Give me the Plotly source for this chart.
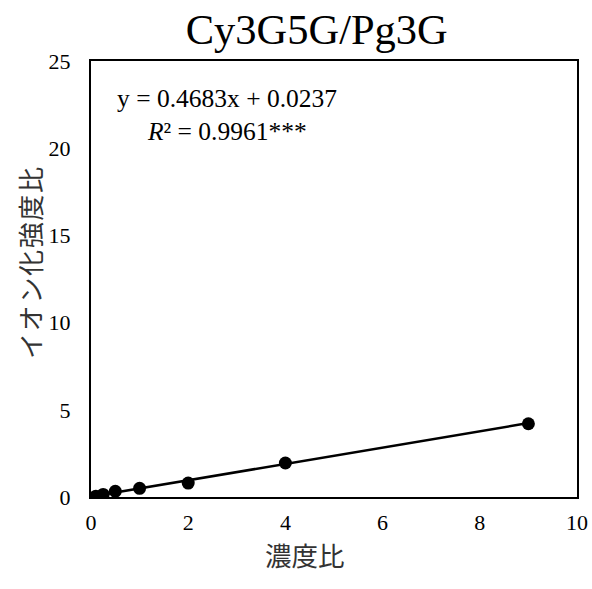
import plotly.graph_objects as go

x_vals = [0.1, 0.25, 0.5, 1, 2, 4, 9]
y_vals = [0.05, 0.15, 0.33, 0.5, 0.8, 1.95, 4.2]
slope = 0.4683
intercept = 0.0237
title = "Cy3G5G/Pg3G"
x_label = "濃度比"
y_label = "イオン化強度比"

xs_fit = [min(x_vals), max(x_vals)]
ys_fit = [slope * v + intercept for v in xs_fit]

serif = "Liberation Serif"
jp = "Noto Sans CJK JP"

fig = go.Figure()
fig.add_trace(go.Scatter(x=xs_fit, y=ys_fit, mode="lines",
                         line=dict(color="black", width=2.5), showlegend=False))
fig.add_trace(go.Scatter(x=x_vals, y=y_vals, mode="markers",
                         marker=dict(color="black", size=13), showlegend=False))

fig.update_layout(
    width=592, height=589,
    paper_bgcolor="white", plot_bgcolor="white",
    margin=dict(l=91, r=15, t=61, b=92, autoexpand=False),
    title=dict(text=title, x=0.535, xanchor="center", y=1 - 29 / 589, yanchor="middle",
               font=dict(family=serif, size=42.5, color="black")),
    font=dict(family=serif, color="black"),
)
fig.update_xaxes(range=[0, 10], tickvals=[0, 2, 4, 6, 8, 10], showgrid=False, zeroline=False,
                 showline=True, mirror=True, linecolor="black", linewidth=2,
                 ticks="", ticklabelstandoff=5, automargin=False,
                 tickfont=dict(family=serif, size=22, color="black"))
fig.update_yaxes(range=[0, 25], tickvals=[0, 5, 10, 15, 20, 25], showgrid=False, zeroline=False,
                 showline=True, mirror=True, linecolor="black", linewidth=2,
                 ticks="", ticklabelstandoff=14, automargin=False,
                 tickfont=dict(family=serif, size=22, color="black"))

fig.add_annotation(x=0.44, y=-0.083, xref="paper", yref="paper", xanchor="center", yanchor="top",
                   text=x_label, showarrow=False, font=dict(family=jp, size=26.5, color="#333"))
fig.add_annotation(x=-0.1255, y=0.537, xref="paper", yref="paper", xanchor="center", yanchor="middle",
                   text="\u200a".join(y_label), textangle=-90, showarrow=False,
                   font=dict(family=jp, size=26, color="#333"))

fig.add_annotation(x=0.049, y=0.915, xref="paper", yref="paper", xanchor="left", yanchor="middle",
                   text=f"y = {slope}x + {intercept}", showarrow=False,
                   font=dict(family=serif, size=25.5, color="black"))
fig.add_annotation(x=0.112, y=0.839, xref="paper", yref="paper", xanchor="left", yanchor="middle",
                   text="<i>R</i>² = 0.9961***", showarrow=False,
                   font=dict(family=serif, size=25.5, color="black"))

fig.write_html("out.html", config={"displayModeBar": False},
               post_script="document.body.style.margin='0';")
